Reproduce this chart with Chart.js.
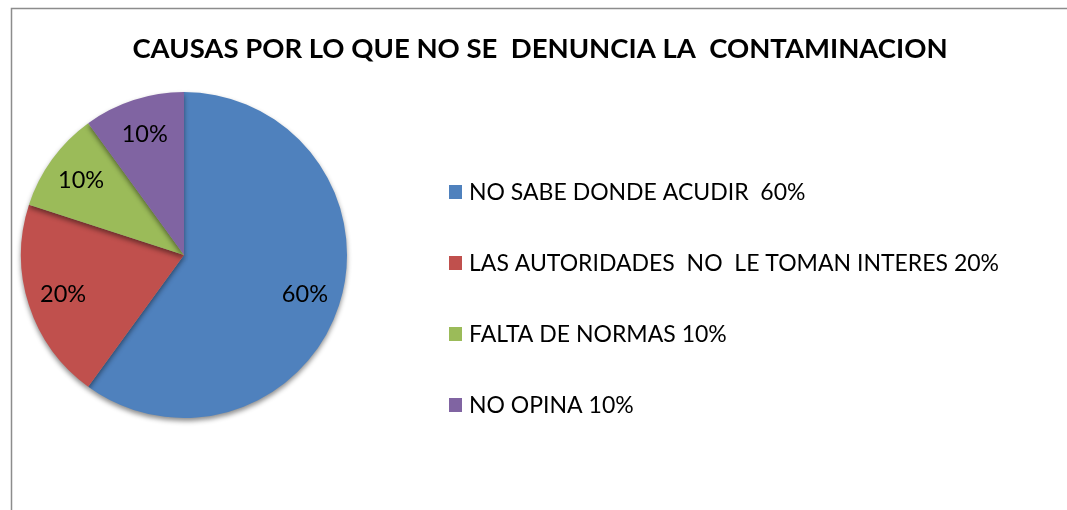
<!DOCTYPE html>
<html><head><meta charset="utf-8">
<script src="https://cdn.jsdelivr.net/npm/chart.js@4/dist/chart.umd.min.js"></script>
<style>html,body{margin:0;padding:0;background:#fff;}#wrap{width:1067px;height:510px;position:relative;}</style>
</head><body><div id="wrap"><canvas id="c" width="1067" height="510"></canvas></div>
<script>
const title = 'CAUSAS POR LO QUE NO SE  DENUNCIA LA  CONTAMINACION';
const categories = ['NO SABE DONDE ACUDIR  60%', 'LAS AUTORIDADES  NO  LE TOMAN INTERES 20%', 'FALTA DE NORMAS 10%', 'NO OPINA 10%'];
const values = [60, 20, 10, 10];
const sliceLabels = ['60%', '20%', '10%', '10%'];
const colors = ['#4F81BD', '#C0504D', '#9BBB59', '#8064A2'];
const FONT = 'Lato, "Open Sans", "Liberation Sans", sans-serif';

const framePlugin = {
  id: 'frame',
  beforeDraw(chart) {
    const ctx = chart.ctx;
    ctx.save();
    ctx.fillStyle = '#fff';
    ctx.fillRect(0, 0, chart.width, chart.height);
    ctx.strokeStyle = '#8c8c8c';
    ctx.lineWidth = 1.5;
    ctx.beginPath();
    ctx.moveTo(11.5, chart.height + 5);
    ctx.lineTo(11.5, 8.5);
    ctx.lineTo(chart.width + 5, 8.5);
    ctx.stroke();
    // title
    ctx.fillStyle = '#000';
    ctx.font = 'bold 27.5px ' + FONT;
    ctx.textAlign = 'center';
    ctx.textBaseline = 'middle';
    ctx.fillText(title, 540, 49);
    ctx.restore();
  },
  beforeDatasetsDraw(chart) {
    const ctx = chart.ctx;
    ctx.save();
    ctx.shadowColor = 'rgba(0,0,0,0.45)';
    ctx.shadowBlur = 5;
    ctx.shadowOffsetY = 3;
  },
  afterDatasetsDraw(chart) {
    chart.ctx.restore();
    const ctx = chart.ctx;
    const meta = chart.getDatasetMeta(0);
    ctx.save();
    ctx.fillStyle = '#000';
    ctx.font = '23.5px ' + FONT;
    ctx.textAlign = 'center';
    ctx.textBaseline = 'middle';
    meta.data.forEach((arc, i) => {
      const p = arc.getProps(['x', 'y', 'startAngle', 'endAngle', 'outerRadius'], true);
      const a = (p.startAngle + p.endAngle) / 2;
      const r = p.outerRadius * 0.78;
      ctx.fillText(sliceLabels[i], p.x + Math.cos(a) * r, p.y + Math.sin(a) * r);
    });
    // legend
    ctx.font = '23px ' + FONT;
    ctx.textAlign = 'left';
    categories.forEach((c, i) => {
      const y = 192 + i * 71;
      ctx.fillStyle = colors[i];
      ctx.fillRect(449, y - 7, 13, 14);
      ctx.fillStyle = '#000';
      ctx.fillText(c, 469, y + 1);
    });
    ctx.restore();
  }
};

new Chart(document.getElementById('c'), {
  type: 'pie',
  data: {
    labels: categories,
    datasets: [{ data: values, backgroundColor: colors, borderWidth: 0 }]
  },
  options: {
    responsive: false,
    animation: false,
    layout: { padding: { left: 20, right: 719, top: 92, bottom: 92 } },
    plugins: { legend: { display: false }, tooltip: { enabled: false }, title: { display: false } }
  },
  plugins: [framePlugin]
});
</script></body></html>
